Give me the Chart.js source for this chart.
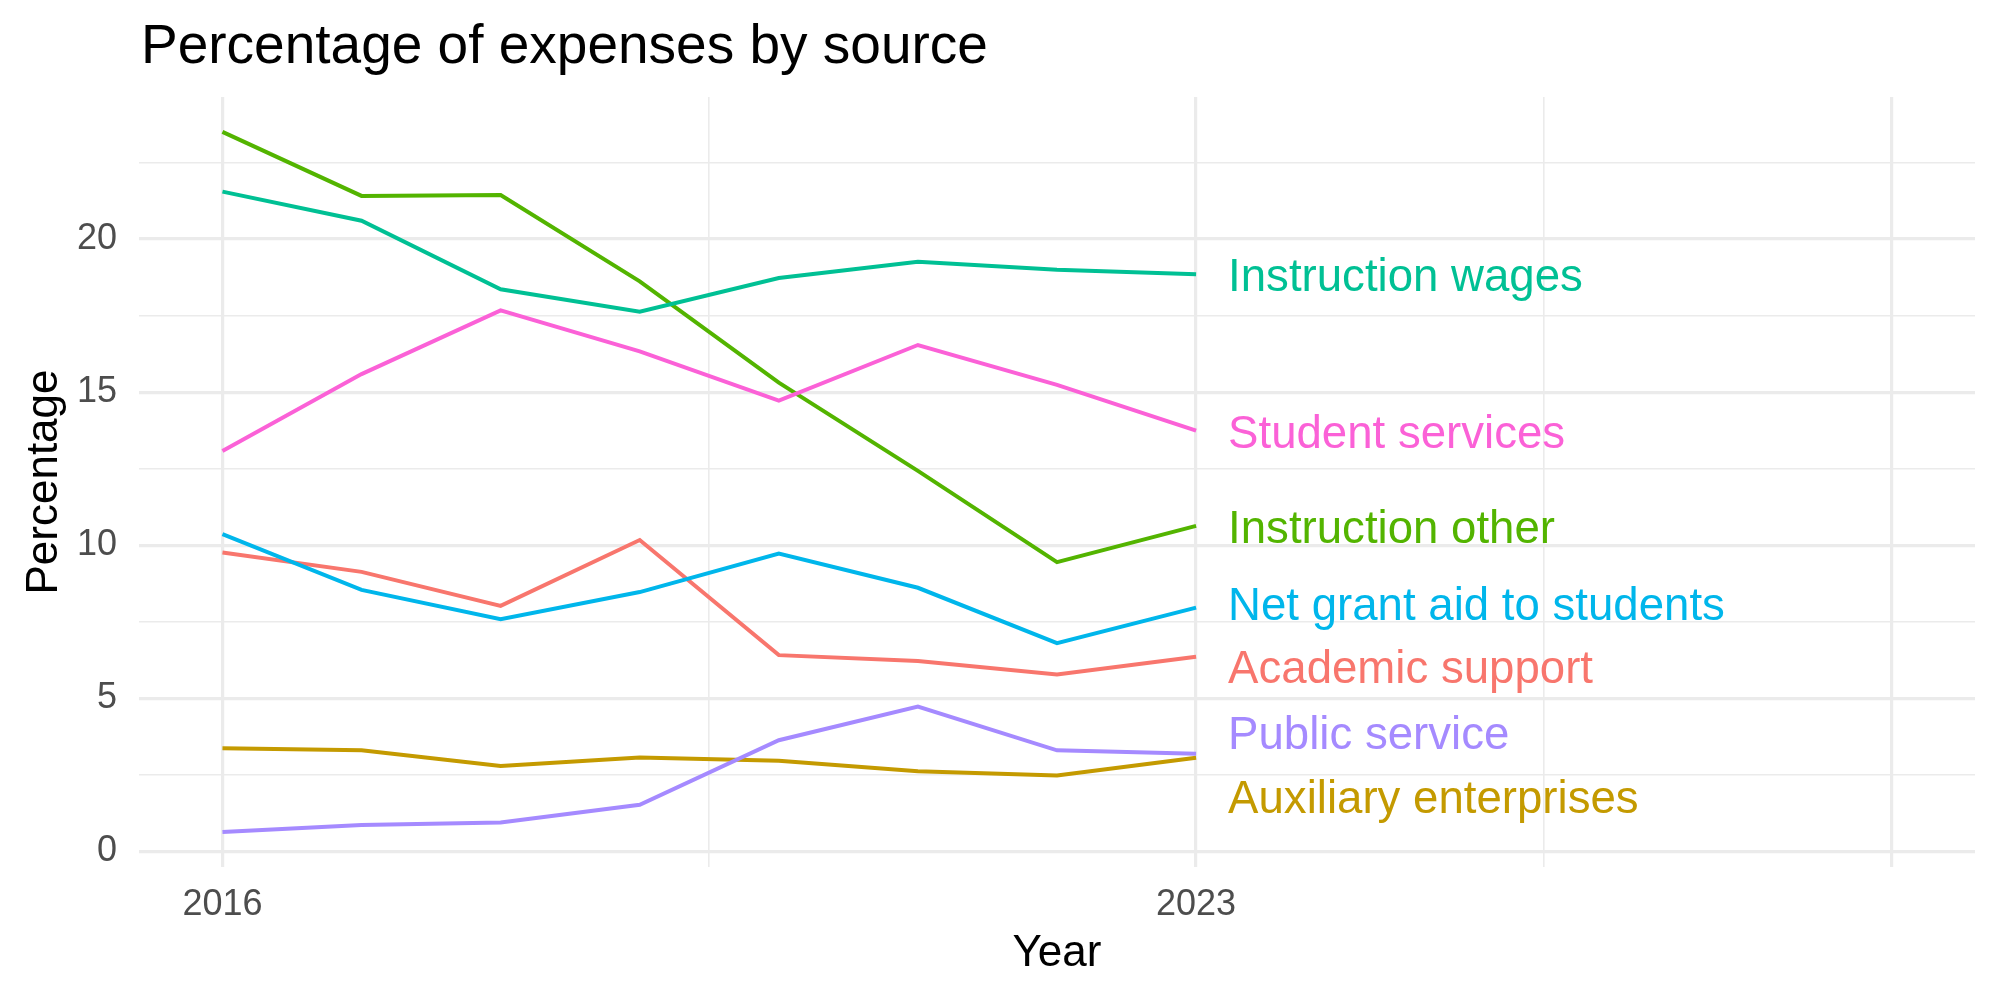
<!DOCTYPE html>
<html>
<head>
<meta charset="utf-8">
<script src="https://cdn.jsdelivr.net/npm/chart.js@4/dist/chart.umd.min.js"></script>
<style>
  html,body{margin:0;padding:0;background:#fff;}
  #wrap{width:2000px;height:1000px;}
</style>
</head>
<body>
<div id="wrap"><canvas id="c" width="2000" height="1000"></canvas></div>
<script>
/* expenses by source, 2016-2023 */
const years=[2016,2017,2018,2019,2020,2021,2022,2023];
const names=['Academic support','Auxiliary enterprises','Instruction other',
  'Instruction wages','Net grant aid to students','Public service','Student services'];
const colors=['#F8766D','#C49A00','#53B400','#00C094','#00B6EB','#A58AFF','#FB61D7'];
const academic =[9.76,9.13,8.02,10.17,6.41,6.22,5.78,6.36];
const auxiliary=[3.37,3.30,2.79,3.07,2.96,2.62,2.48,3.06];
const instOther=[23.5,21.41,21.44,18.62,15.31,12.43,9.45,10.63];
const instWages=[21.55,20.6,18.36,17.63,18.73,19.26,19.0,18.85];
const netGrant =[10.36,8.54,7.58,8.47,9.73,8.61,6.80,7.96];
const pubServ  =[0.63,0.86,0.94,1.52,3.63,4.73,3.30,3.19];
const studServ =[13.08,15.59,17.67,16.33,14.72,16.54,15.24,13.74];
const series=[academic,auxiliary,instOther,instWages,netGrant,pubServ,studServ];
// end labels (repelled y positions) placed just right of 2023
const labelX=2023.23;
const labelY=[6.02,1.79,10.61,18.83,8.10,3.87,13.71];
// axis breaks
const xMajor=[2016,2023,2028], xMinor=[2019.5,2025.5], xLabels={2016:'2016',2023:'2023'};
const yMajor=[0,5,10,15,20], yMinor=[2.5,7.5,12.5,17.5,22.5];

(function(){
  const FF='"Liberation Sans", Arial, Helvetica, sans-serif';
  const GRID='#EBEBEB';
  const isMajor=(arr,v)=>arr.some(m=>Math.abs(m-v)<1e-6);

  const datasets=series.map((s,i)=>({
    label:names[i],
    data:s.map((v,j)=>({x:years[j],y:v})),
    borderColor:colors[i],backgroundColor:colors[i],
    borderWidth:4,pointRadius:0,tension:0,fill:false,
    order:series.length-i
  }));

  const textPlugin={
    id:'texts',
    afterDatasetsDraw(chart){
      const c=chart.ctx, xs=chart.scales.x, ys=chart.scales.y;
      c.save();
      // end-of-line labels
      c.font='45.6px '+FF; c.textAlign='left'; c.textBaseline='alphabetic';
      names.forEach((n,i)=>{
        c.fillStyle=colors[i];
        c.fillText(n,xs.getPixelForValue(labelX),ys.getPixelForValue(labelY[i])+0.358*45.6);
      });
      c.restore();
    },
    afterDraw(chart){
      const c=chart.ctx, a=chart.chartArea;
      c.save();
      c.fillStyle='#000'; c.textBaseline='alphabetic';
      c.font='55px '+FF; c.textAlign='left';
      c.fillText('Percentage of expenses by source',141,63);
      c.font='44px '+FF; c.textAlign='center';
      c.fillText('Year',(a.left+a.right)/2,966);
      c.translate(57,(a.top+a.bottom)/2); c.rotate(-Math.PI/2);
      c.fillText('Percentage',0,0);
      c.restore();
    }
  };

  new Chart(document.getElementById('c'),{
    type:'line',
    data:{datasets},
    options:{
      responsive:false,animation:false,
      layout:{padding:{top:97,right:25,left:0,bottom:0}},
      plugins:{legend:{display:false},tooltip:{enabled:false},title:{display:false}},
      scales:{
        x:{type:'linear',min:2015.4,max:2028.6,
          border:{display:false},
          afterBuildTicks:s=>{ s.ticks=[...xMajor,...xMinor].sort((a,b)=>a-b).map(v=>({value:v})); },
          afterFit:s=>{ s.height=133; },
          grid:{color:GRID,drawTicks:false,
            lineWidth:c=>isMajor(xMajor,c.tick.value)?3.2:1.6},
          ticks:{autoSkip:false,maxRotation:0,padding:16,color:'#4D4D4D',
            font:{family:FF,size:36},
            callback:v=>xLabels[v]||''}
        },
        y:{type:'linear',min:-0.51,max:24.64,
          border:{display:false},
          afterBuildTicks:s=>{ s.ticks=[...yMajor,...yMinor].sort((a,b)=>a-b).map(v=>({value:v})); },
          afterFit:s=>{ s.width=139; },
          grid:{color:GRID,drawTicks:false,
            lineWidth:c=>isMajor(yMajor,c.tick.value)?3.2:1.6},
          ticks:{autoSkip:false,padding:22,color:'#4D4D4D',
            font:{family:FF,size:36},
            callback:v=>isMajor(yMajor,v)?String(v):''}
        }
      }
    },
    plugins:[textPlugin]
  });
})();
</script>
</body>
</html>
